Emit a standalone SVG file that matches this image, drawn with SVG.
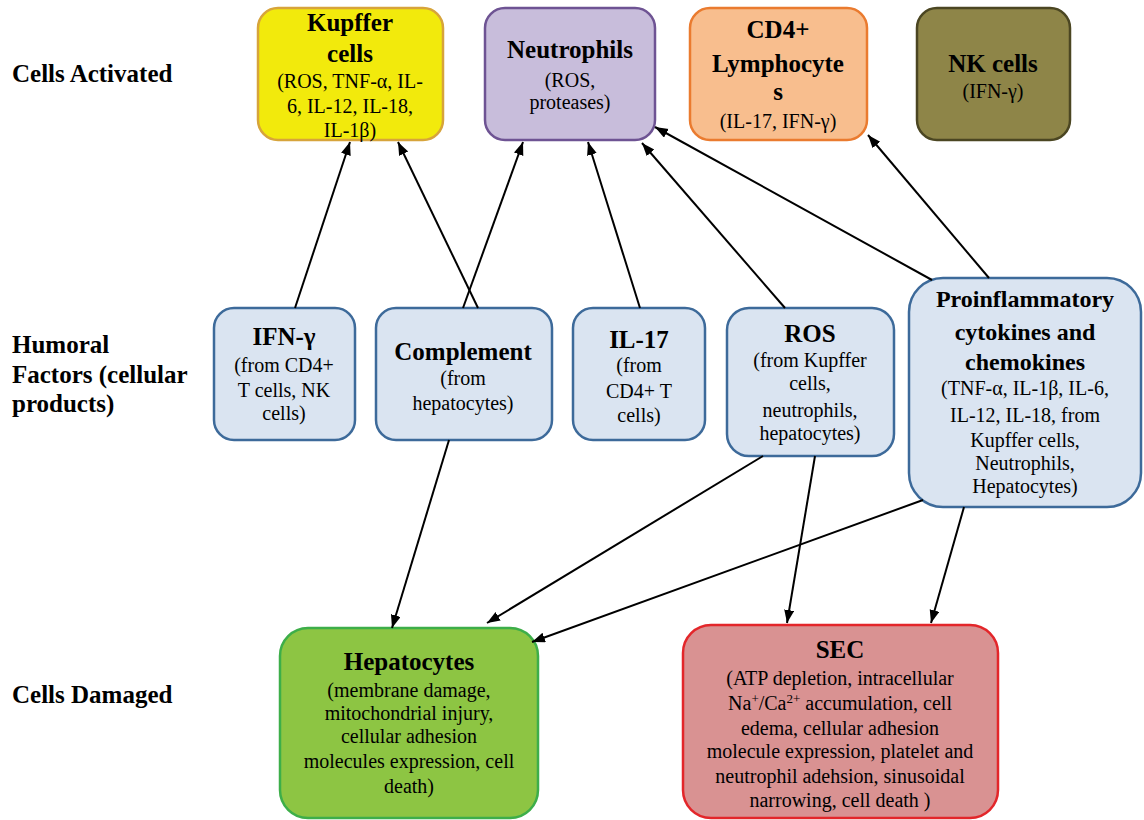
<svg xmlns="http://www.w3.org/2000/svg" width="1144" height="820" viewBox="0 0 1144 820">
<style>
text{font-family:"Liberation Serif","Times New Roman",serif;fill:#000;text-anchor:middle}
.t{font-size:25px;font-weight:bold}
.tp{font-size:24px;font-weight:bold}
.s{font-size:20px}
.lab{font-size:25px;font-weight:bold;text-anchor:start}
.box{stroke-width:2.5}
.hum{fill:#dae4f1;stroke:#3d6a9a}
.c{stroke:#000;stroke-width:2;fill:none;marker-end:url(#ah)}
</style>
<defs>
<marker id="ah" markerUnits="userSpaceOnUse" markerWidth="14" markerHeight="12" refX="13" refY="5" orient="auto">
<path d="M0,0 L13,5 L0,10 z" fill="#000"/>
</marker>
</defs>
<rect width="1144" height="820" fill="#fff"/>
<g id="labels">
<text class="lab" x="12" y="82">Cells Activated</text>
<text class="lab" x="12" y="353">Humoral</text>
<text class="lab" x="12" y="383">Factors (cellular</text>
<text class="lab" x="12" y="412">products)</text>
<text class="lab" x="12" y="703">Cells Damaged</text>
</g>
<g id="kupffer">
<rect class="box" x="258" y="8" width="185" height="132" rx="20" fill="#f2ea0c" stroke="#d7a43b"/>
<text class="t" x="350" y="31">Kupffer</text>
<text class="t" x="350" y="62">cells</text>
<text class="s" x="350" y="88">(ROS, TNF-α, IL-</text>
<text class="s" x="350" y="113">6, IL-12, IL-18,</text>
<text class="s" x="350" y="137">IL-1β)</text>
</g>
<g id="neutrophils">
<rect class="box" x="485" y="8" width="170" height="132" rx="20" fill="#c8bddb" stroke="#6e5393"/>
<text class="t" x="570" y="58">Neutrophils</text>
<text class="s" x="570" y="87">(ROS,</text>
<text class="s" x="570" y="109">proteases)</text>
</g>
<g id="cd4">
<rect class="box" x="690" y="8" width="177" height="132" rx="20" fill="#f8be8e" stroke="#ea7b2f"/>
<text class="t" x="778" y="38">CD4+</text>
<text class="t" x="778" y="72">Lymphocyte</text>
<text class="t" x="778" y="100">s</text>
<text class="s" x="778" y="128">(IL-17, IFN-γ)</text>
</g>
<g id="nk">
<rect class="box" x="917" y="8" width="153" height="132" rx="20" fill="#8e8548" stroke="#4b4622"/>
<text class="t" x="993" y="72">NK cells</text>
<text class="s" x="993" y="98">(IFN-γ)</text>
</g>
<g id="ifn">
<rect class="box hum" x="214" y="308" width="141" height="132" rx="20"/>
<text class="t" x="284" y="345">IFN-γ</text>
<text class="s" x="284" y="372">(from CD4+</text>
<text class="s" x="284" y="397">T cells, NK</text>
<text class="s" x="284" y="420">cells)</text>
</g>
<g id="complement">
<rect class="box hum" x="376" y="308" width="176" height="132" rx="20"/>
<text class="t" x="463" y="360">Complement</text>
<text class="s" x="463" y="385">(from</text>
<text class="s" x="463" y="410">hepatocytes)</text>
</g>
<g id="il17">
<rect class="box hum" x="573" y="308" width="132" height="132" rx="20"/>
<text class="t" x="639" y="348">IL-17</text>
<text class="s" x="639" y="372">(from</text>
<text class="s" x="639" y="398">CD4+ T</text>
<text class="s" x="639" y="422">cells)</text>
</g>
<g id="ros">
<rect class="box hum" x="727" y="308" width="167" height="148" rx="22"/>
<text class="t" x="810" y="342">ROS</text>
<text class="s" x="810" y="367">(from Kupffer</text>
<text class="s" x="810" y="390">cells,</text>
<text class="s" x="810" y="417">neutrophils,</text>
<text class="s" x="810" y="440">hepatocytes)</text>
</g>
<g id="proinflammatory">
<rect class="box hum" x="909" y="278" width="232" height="229" rx="34"/>
<text class="tp" x="1025" y="307">Proinflammatory</text>
<text class="tp" x="1025" y="340">cytokines and</text>
<text class="tp" x="1025" y="370">chemokines</text>
<text class="s" x="1025" y="395">(TNF-α, IL-1β, IL-6,</text>
<text class="s" x="1025" y="422">IL-12, IL-18, from</text>
<text class="s" x="1025" y="447">Kupffer cells,</text>
<text class="s" x="1025" y="470">Neutrophils,</text>
<text class="s" x="1025" y="493">Hepatocytes)</text>
</g>
<g id="hepatocytes">
<rect class="box" x="280" y="628" width="258" height="190" rx="28" fill="#8dc543" stroke="#3dae49"/>
<text class="t" x="409" y="670">Hepatocytes</text>
<text class="s" x="409" y="697">(membrane damage,</text>
<text class="s" x="409" y="720">mitochondrial injury,</text>
<text class="s" x="409" y="743">cellular adhesion</text>
<text class="s" x="409" y="768">molecules expression, cell</text>
<text class="s" x="409" y="793">death)</text>
</g>
<g id="sec">
<rect class="box" x="683" y="625" width="315" height="193" rx="28" fill="#d99292" stroke="#e3262a"/>
<text class="t" x="840" y="658">SEC</text>
<text class="s" x="840" y="685">(ATP depletion, intracellular</text>
<text class="s" x="840" y="710">Na<tspan font-size="13" dy="-7">+</tspan><tspan dy="7">/Ca</tspan><tspan font-size="13" dy="-7">2+</tspan><tspan dy="7"> accumulation, cell</tspan></text>
<text class="s" x="840" y="735">edema, cellular adhesion</text>
<text class="s" x="840" y="758">molecule expression, platelet and</text>
<text class="s" x="840" y="783">neutrophil adehsion, sinusoidal</text>
<text class="s" x="840" y="807">narrowing, cell death )</text>
</g>
<g id="connectors">
<line class="c" x1="295" y1="308" x2="350" y2="142"/>
<line class="c" x1="478" y1="308" x2="398" y2="142"/>
<line class="c" x1="463" y1="308" x2="523" y2="142"/>
<line class="c" x1="640" y1="308" x2="588" y2="142"/>
<line class="c" x1="785" y1="308" x2="642" y2="143"/>
<line class="c" x1="932" y1="280" x2="655" y2="127"/>
<line class="c" x1="989" y1="278" x2="868" y2="135"/>
<line class="c" x1="449" y1="440" x2="392" y2="628"/>
<line class="c" x1="763" y1="456" x2="487" y2="623"/>
<line class="c" x1="815" y1="456" x2="787" y2="623"/>
<line class="c" x1="923" y1="500" x2="532" y2="642"/>
<line class="c" x1="964" y1="507" x2="931" y2="623"/>
</g>
</svg>
